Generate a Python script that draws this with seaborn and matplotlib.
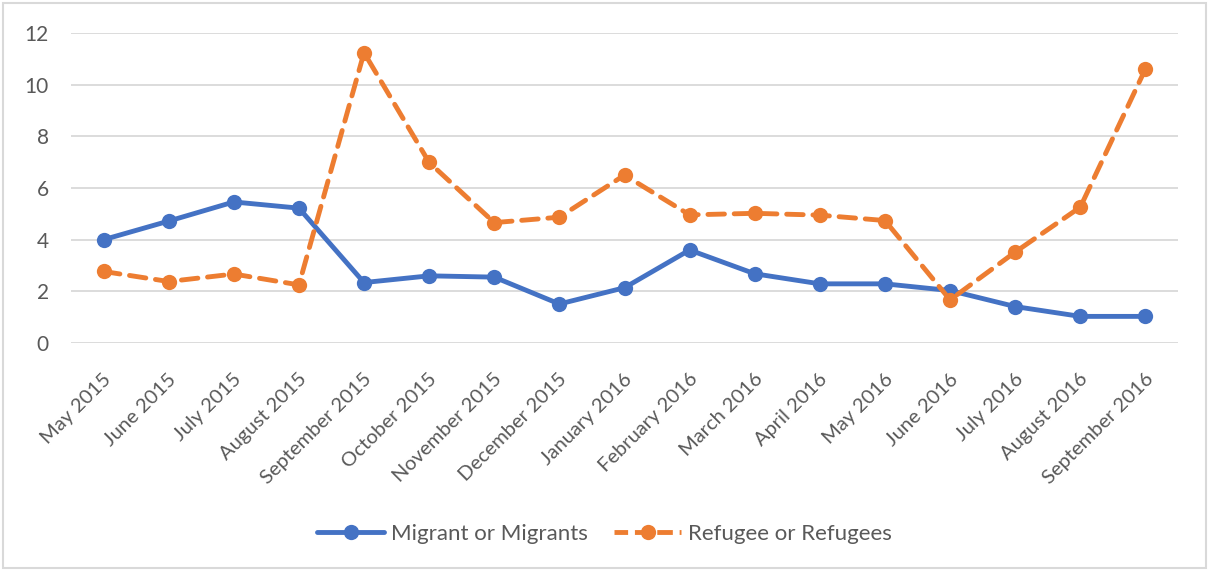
import matplotlib
matplotlib.use("Agg")
import matplotlib.pyplot as plt
import matplotlib.transforms as mtransforms
import seaborn as sns
import pandas as pd
from matplotlib.patches import Rectangle
from matplotlib.lines import Line2D

months = ["May 2015", "June 2015", "July 2015", "August 2015", "September 2015",
          "October 2015", "November 2015", "December 2015", "January 2016",
          "February 2016", "March 2016", "April 2016", "May 2016", "June 2016",
          "July 2016", "August 2016", "September 2016"]
migrant = [4.0, 4.72, 5.46, 5.22, 2.34, 2.6, 2.55, 1.51, 2.14, 3.6, 2.68,
           2.29, 2.29, 2.03, 1.41, 1.03, 1.03]
refugee = [2.77, 2.38, 2.67, 2.25, 11.24, 6.99, 4.66, 4.87, 6.5, 4.96, 5.02,
           4.95, 4.74, 1.67, 3.52, 5.26, 10.61]
yticks = [0, 2, 4, 6, 8, 10, 12]
series_names = ["Migrant or Migrants", "Refugee or Refugees"]

BLUE = "#4472C4"
ORANGE = "#ED7D31"
TXT = "#595959"
GRID = "#D9D9D9"
LW = 3.5
MS = 11

sns.set_theme(style="white")
plt.rcParams["font.family"] = ["Lato", "DejaVu Sans"]

df = pd.DataFrame({
    "pos": list(range(len(months))) * 2,
    "value": migrant + refugee,
    "series": [series_names[0]] * len(months) + [series_names[1]] * len(months),
})

fig = plt.figure(figsize=(12.09, 5.71), dpi=100)
ax = fig.add_axes([71 / 1209, 1 - 343 / 571, (1178 - 71) / 1209, (343 - 33) / 571])

sns.lineplot(data=df[df.series == series_names[0]], x="pos", y="value", ax=ax,
             color=BLUE, lw=LW, marker="o", markersize=MS, markeredgewidth=0,
             legend=False, sort=False, zorder=3)
sns.lineplot(data=df[df.series == series_names[1]], x="pos", y="value", ax=ax,
             color=ORANGE, lw=LW, marker="o", markersize=MS, markeredgewidth=0,
             legend=False, sort=False, zorder=4, dashes=False)
ax.lines[1].set_linestyle((0, (3.4, 2.0)))
ax.lines[1].set_dash_capstyle("round")
ax.lines[0].set_solid_capstyle("round")

ax.set_xlim(-0.5, len(months) - 0.5)
ax.set_ylim(0, 12)
ax.set_yticks(yticks)
ax.set_yticklabels([str(t) for t in yticks], fontsize=15, color=TXT)
ax.set_xticks(range(len(months)))
ax.set_xticklabels(months, rotation=45, ha="right", va="center",
                   rotation_mode="anchor", fontsize=14.5, color=TXT)
ax.tick_params(axis="y", length=0, pad=16)
ax.tick_params(axis="x", length=0, pad=24)
offset = mtransforms.ScaledTranslation(5 / 100, 0, fig.dpi_scale_trans)
for lbl in ax.get_xticklabels():
    lbl.set_transform(lbl.get_transform() + offset)
ax.grid(axis="y", color=GRID, lw=1.3)
ax.set_axisbelow(True)
for s in ax.spines.values():
    s.set_visible(False)
ax.set_xlabel("")
ax.set_ylabel("")

handles = [
    Line2D([0], [0], color=BLUE, lw=LW, marker="o", markersize=MS, markeredgewidth=0),
    Line2D([0], [0], color=ORANGE, lw=LW, ls=(0.4, (3.2, 1.4)), marker="o",
           markersize=MS, markeredgewidth=0),
]
fig.legend(handles, series_names, loc="center", bbox_to_anchor=(0.5, 1 - 534 / 571),
           ncol=2, frameon=False, fontsize=16, labelcolor=TXT, handlelength=3.0,
           columnspacing=1.2, handletextpad=0.3)

fig.patches.append(Rectangle((3 / 1209, 3 / 571), 1 - 6 / 1209, 1 - 6 / 571,
                             transform=fig.transFigure, fill=False,
                             edgecolor="#D9D9D9", lw=1.5))

fig.savefig("out.png", dpi=100, facecolor="white")
